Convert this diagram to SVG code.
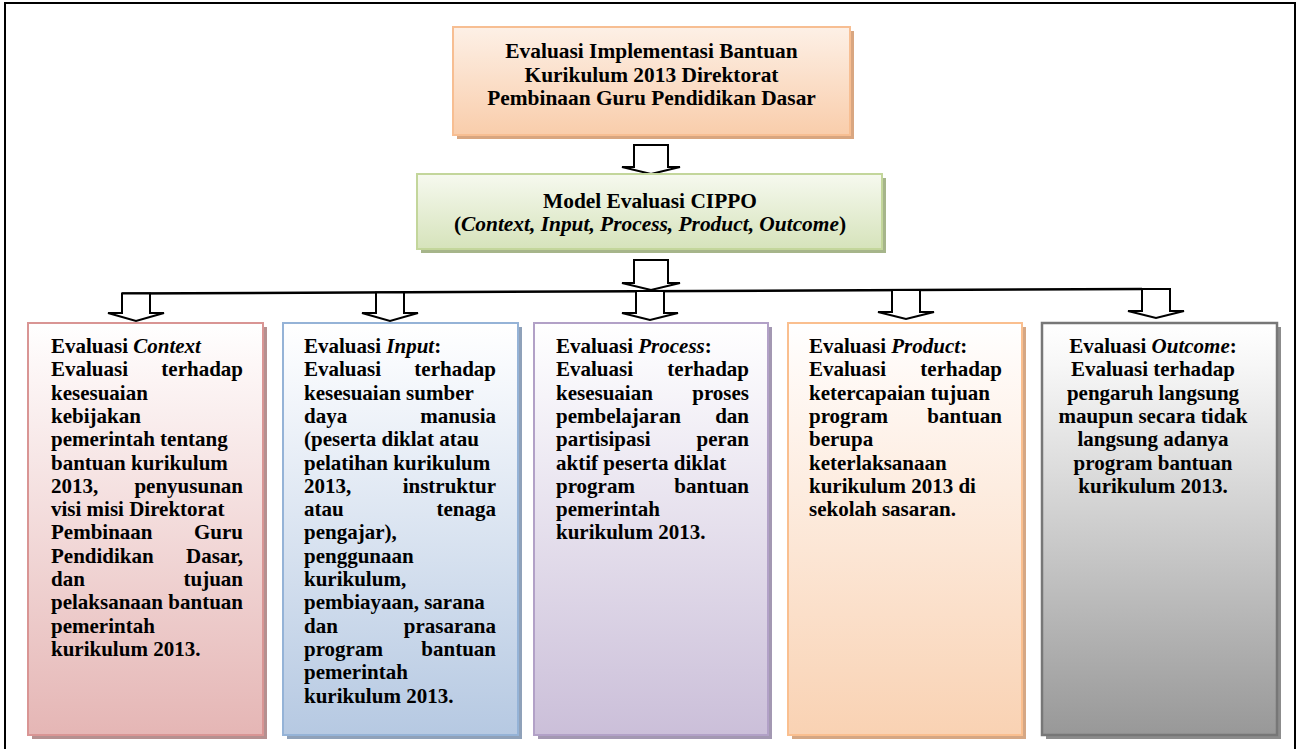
<svg xmlns="http://www.w3.org/2000/svg" width="1300" height="749" viewBox="0 0 1300 749">
<defs>
<linearGradient id="gTop" x1="0" y1="0" x2="0" y2="1"><stop offset="0" stop-color="#fdf0e6"/><stop offset="1" stop-color="#f9cdab"/></linearGradient>
<linearGradient id="gGreen" x1="0" y1="0" x2="0" y2="1"><stop offset="0" stop-color="#f6f9ef"/><stop offset="1" stop-color="#d6e3bb"/></linearGradient>
<linearGradient id="gC" x1="0" y1="0" x2="0" y2="1"><stop offset="0" stop-color="#ffffff"/><stop offset="0.1" stop-color="#fdf7f7"/><stop offset="1" stop-color="#e5b6b5"/></linearGradient>
<linearGradient id="gI" x1="0" y1="0" x2="0" y2="1"><stop offset="0" stop-color="#ffffff"/><stop offset="0.1" stop-color="#f8fafd"/><stop offset="1" stop-color="#b6c9e2"/></linearGradient>
<linearGradient id="gP" x1="0" y1="0" x2="0" y2="1"><stop offset="0" stop-color="#ffffff"/><stop offset="0.1" stop-color="#faf9fc"/><stop offset="1" stop-color="#cbbfd9"/></linearGradient>
<linearGradient id="gR" x1="0" y1="0" x2="0" y2="1"><stop offset="0" stop-color="#ffffff"/><stop offset="0.1" stop-color="#fffaf7"/><stop offset="1" stop-color="#f9d2b3"/></linearGradient>
<linearGradient id="gO" x1="0" y1="0" x2="0" y2="1"><stop offset="0" stop-color="#ffffff"/><stop offset="0.1" stop-color="#f7f7f7"/><stop offset="1" stop-color="#989898"/></linearGradient>
<style>
text{font-family:"Liberation Serif","Times New Roman",serif;font-weight:bold;font-size:21px;fill:#000}
.c{text-anchor:middle}
.e{text-anchor:end}
.big{font-size:21.4px}
.arr{fill:#fff;stroke:#000;stroke-width:2;stroke-linejoin:miter}
.ln{fill:none;stroke:#000;stroke-width:2.5}
</style>
</defs>
<rect x="5" y="3" width="1290" height="760" fill="#fff" stroke="#000" stroke-width="2"/>

<g id="connectors">
<path class="ln" d="M122 293.5 L1142 289"/>
<polygon class="arr" points="634,145 634,167 622,167 651,174 680,167 668,167 668,145"/>
<polygon class="arr" points="634,260 634,283 622,283 651,290 680,283 668,283 668,260"/>
<polygon class="arr" points="636,291 636,313 622,313 650,320 678,313 664,313 664,291"/>
<polygon class="arr" points="122,293.5 122,313 108,313 136,321 164,313 150,313 150,293.5"/>
<polygon class="arr" points="376,292.5 376,313 362,313 390,321 418,313 404,313 404,292.5"/>
<polygon class="arr" points="892,290 892,312 878,312 906,319 934,312 920,312 920,290"/>
<polygon class="arr" points="1142,289 1142,311 1128,311 1156,318 1184,311 1170,311 1170,289"/>
</g>

<g id="top">
<rect x="457" y="31" width="397" height="108" fill="#d9a680"/>
<rect x="453" y="27" width="397" height="108" fill="url(#gTop)" stroke="#f7be92" stroke-width="2"/>
<text class="c big" x="651.5" y="58">Evaluasi Implementasi Bantuan</text>
<text class="c big" x="651.5" y="81.5">Kurikulum 2013 Direktorat</text>
<text class="c big" x="651.5" y="105">Pembinaan Guru Pendidikan Dasar</text>
</g>

<g id="model">
<rect x="421" y="178" width="465" height="75" fill="#a6b58a"/>
<rect x="417" y="174" width="465" height="75" fill="url(#gGreen)" stroke="#c3d69b" stroke-width="2"/>
<text class="c big" x="650" y="208">Model Evaluasi CIPPO</text>
<text class="c big" x="650" y="231">(<tspan font-style="italic">Context, Input, Process, Product, Outcome</tspan>)</text>
</g>

<g id="context">
<rect x="32" y="327" width="235" height="412" fill="#b59090"/>
<rect x="28" y="323" width="235" height="412" fill="url(#gC)" stroke="#d99594" stroke-width="2"/>
<text x="51" y="353">Evaluasi <tspan font-style="italic">Context</tspan></text>
<text x="51" y="376.3">Evaluasi</text><text class="e" x="243" y="376.3">terhadap</text>
<text x="51" y="399.6">kesesuaian</text>
<text x="51" y="422.9">kebijakan</text>
<text x="51" y="446.2">pemerintah tentang</text>
<text x="51" y="469.5">bantuan kurikulum</text>
<text x="51" y="492.8">2013,</text><text class="e" x="243" y="492.8">penyusunan</text>
<text x="51" y="516.1">visi misi Direktorat</text>
<text x="51" y="539.4">Pembinaan</text><text class="e" x="243" y="539.4">Guru</text>
<text x="51" y="562.7">Pendidikan</text><text class="e" x="243" y="562.7">Dasar,</text>
<text x="51" y="586">dan</text><text class="e" x="243" y="586">tujuan</text>
<text x="51" y="609.3">pelaksanaan bantuan</text>
<text x="51" y="632.6">pemerintah</text>
<text x="51" y="655.9">kurikulum 2013.</text>
</g>

<g id="input">
<rect x="287" y="327" width="235" height="412" fill="#8fa1b9"/>
<rect x="283" y="323" width="235" height="412" fill="url(#gI)" stroke="#95b3d7" stroke-width="2"/>
<text x="304" y="353">Evaluasi <tspan font-style="italic">Input</tspan>:</text>
<text x="304" y="376.3">Evaluasi</text><text class="e" x="496" y="376.3">terhadap</text>
<text x="304" y="399.6">kesesuaian sumber</text>
<text x="304" y="422.9">daya</text><text class="e" x="496" y="422.9">manusia</text>
<text x="304" y="446.2">(peserta diklat atau</text>
<text x="304" y="469.5">pelatihan kurikulum</text>
<text x="304" y="492.8">2013,</text><text class="e" x="496" y="492.8">instruktur</text>
<text x="304" y="516.1">atau</text><text class="e" x="496" y="516.1">tenaga</text>
<text x="304" y="539.4">pengajar),</text>
<text x="304" y="562.7">penggunaan</text>
<text x="304" y="586">kurikulum,</text>
<text x="304" y="609.3">pembiayaan, sarana</text>
<text x="304" y="632.6">dan</text><text class="e" x="496" y="632.6">prasarana</text>
<text x="304" y="655.9">program</text><text class="e" x="496" y="655.9">bantuan</text>
<text x="304" y="679.2">pemerintah</text>
<text x="304" y="702.5">kurikulum 2013.</text>
</g>

<g id="process">
<rect x="538" y="327" width="234" height="412" fill="#a398b2"/>
<rect x="534" y="323" width="234" height="412" fill="url(#gP)" stroke="#b2a1c7" stroke-width="2"/>
<text x="556" y="353">Evaluasi <tspan font-style="italic">Process</tspan>:</text>
<text x="556" y="376.3">Evaluasi</text><text class="e" x="749" y="376.3">terhadap</text>
<text x="556" y="399.6">kesesuaian</text><text class="e" x="749" y="399.6">proses</text>
<text x="556" y="422.9">pembelajaran</text><text class="e" x="749" y="422.9">dan</text>
<text x="556" y="446.2">partisipasi</text><text class="e" x="749" y="446.2">peran</text>
<text x="556" y="469.5">aktif peserta diklat</text>
<text x="556" y="492.8">program</text><text class="e" x="749" y="492.8">bantuan</text>
<text x="556" y="516.1">pemerintah</text>
<text x="556" y="539.4">kurikulum 2013.</text>
</g>

<g id="product">
<rect x="792" y="327" width="234" height="412" fill="#d5a784"/>
<rect x="788" y="323" width="234" height="412" fill="url(#gR)" stroke="#fabf8f" stroke-width="2"/>
<text x="809" y="353">Evaluasi <tspan font-style="italic">Product</tspan>:</text>
<text x="809" y="376.3">Evaluasi</text><text class="e" x="1002" y="376.3">terhadap</text>
<text x="809" y="399.6">ketercapaian tujuan</text>
<text x="809" y="422.9">program</text><text class="e" x="1002" y="422.9">bantuan</text>
<text x="809" y="446.2">berupa</text>
<text x="809" y="469.5">keterlaksanaan</text>
<text x="809" y="492.8">kurikulum 2013 di</text>
<text x="809" y="516.1">sekolah sasaran.</text>
</g>

<g id="outcome">
<rect x="1046" y="327" width="235" height="412" fill="#8c8c8c"/>
<rect x="1042" y="323" width="235" height="412" fill="url(#gO)" stroke="#777" stroke-width="2.5"/>
<text class="c" x="1153" y="353">Evaluasi <tspan font-style="italic">Outcome</tspan>:</text>
<text class="c" x="1153" y="376.3">Evaluasi terhadap</text>
<text class="c" x="1153" y="399.6">pengaruh langsung</text>
<text class="c" x="1153" y="422.9">maupun secara tidak</text>
<text class="c" x="1153" y="446.2">langsung adanya</text>
<text class="c" x="1153" y="469.5">program bantuan</text>
<text class="c" x="1153" y="492.8">kurikulum 2013.</text>
</g>
</svg>
